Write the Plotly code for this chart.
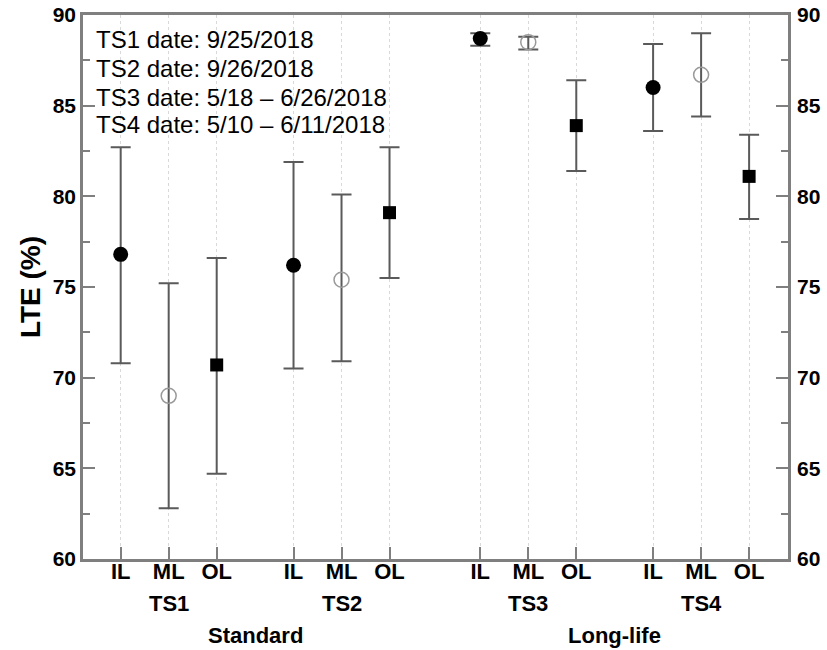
import plotly.graph_objects as go

# ---- data ----
tests = ["TS1", "TS2", "TS3", "TS4"]
locations = ["IL", "ML", "OL"]
road_types = ["Standard", "Long-life"]
date_notes = ["TS1 date: 9/25/2018", "TS2 date: 9/26/2018",
              "TS3 date: 5/18 \u2013 6/26/2018", "TS4 date: 5/10 \u2013 6/11/2018"]

lte_IL = [76.8, 76.2, 88.7, 86.0]
lte_IL_upper = [82.7, 81.9, 89.0, 88.4]
lte_IL_lower = [70.8, 70.5, 88.3, 83.6]

lte_ML = [69.0, 75.4, 88.5, 86.7]
lte_ML_upper = [75.2, 80.1, 88.8, 89.0]
lte_ML_lower = [62.8, 70.9, 88.1, 84.4]

lte_OL = [70.7, 79.1, 83.9, 81.1]
lte_OL_upper = [76.6, 82.7, 86.4, 83.4]
lte_OL_lower = [64.7, 75.5, 81.4, 78.75]

# ---- layout constants ----
group_start = [0.0, 3.6, 7.49, 11.09]
FONT = "Liberation Sans, Arial, sans-serif"
W, H = 827, 650
ML_, MR_, MT_, MB_ = 83, 39, 15, 91
PH = H - MT_ - MB_

series = {
    "IL": (lte_IL, lte_IL_upper, lte_IL_lower,
           dict(symbol="circle", size=15, color="black")),
    "ML": (lte_ML, lte_ML_upper, lte_ML_lower,
           dict(symbol="circle-open", size=15, color="#9a9a9a", line=dict(width=1.5, color="#9a9a9a"))),
    "OL": (lte_OL, lte_OL_upper, lte_OL_lower,
           dict(symbol="square", size=13, color="black")),
}

fig = go.Figure()
tickvals, ticktext = [], []
for j, loc in enumerate(locations):
    vals, up, lo, mk = series[loc]
    xs = [g + j for g in group_start]
    tickvals += xs
    ticktext += [loc] * len(xs)
    fig.add_trace(go.Scatter(
        x=xs, y=vals, mode="markers", marker=mk, showlegend=False,
        error_y=dict(type="data", symmetric=False,
                     array=[u - v for u, v in zip(up, vals)],
                     arrayminus=[v - l for v, l in zip(vals, lo)],
                     color="#5a5a5a", thickness=2, width=10),
    ))

# invisible trace for right axis
fig.add_trace(go.Scatter(x=[group_start[0]], y=[lte_IL[0]], yaxis="y2",
                         mode="markers", marker=dict(opacity=0), showlegend=False,
                         hoverinfo="skip"))

axis_col = "#7f7f7f"
fig.update_layout(
    width=W, height=H,
    margin=dict(l=ML_, r=MR_, t=MT_, b=MB_, autoexpand=False),
    plot_bgcolor="white", paper_bgcolor="white",
    font=dict(family=FONT, color="black"),
    xaxis=dict(range=[-0.785, 13.9], tickvals=tickvals, ticktext=ticktext,
               ticks="inside", ticklen=12, tickcolor=axis_col, tickwidth=1.5,
               showgrid=True, gridcolor="#d9d9d9", griddash="dot", gridwidth=1,
               showline=True, linecolor=axis_col, linewidth=2.5, mirror=True,
               tickfont=dict(size=22, family=FONT, weight="bold"),
               zeroline=False, ticklabelstandoff=-9, automargin=False),
    yaxis=dict(range=[60, 90], tickvals=[60, 65, 70, 75, 80, 85, 90],
               ticks="inside", ticklen=12, tickcolor=axis_col, tickwidth=1.5,
               minor=dict(ticks="inside", ticklen=7, dtick=2.5, tickcolor=axis_col, showgrid=False),
               showgrid=False, zeroline=False,
               showline=True, linecolor=axis_col, linewidth=2.5, mirror=True,
               tickfont=dict(size=21, family=FONT, weight="bold"),
               ticklabelstandoff=0, automargin=False,
               title=dict(text="LTE (%)", font=dict(size=28, family=FONT, weight="bold"), standoff=4)),
    yaxis2=dict(range=[60, 90], overlaying="y", side="right",
                tickvals=[60, 65, 70, 75, 80, 85, 90],
                ticks="inside", ticklen=12, tickcolor=axis_col, tickwidth=1.5,
                minor=dict(ticks="inside", ticklen=7, dtick=2.5, tickcolor=axis_col, showgrid=False),
                showgrid=False, zeroline=False, showline=False,
                tickfont=dict(size=21, family=FONT, weight="bold"),
                ticklabelstandoff=8, automargin=False),
)

# second row of x labels: tests
for t, g in zip(tests, group_start):
    fig.add_annotation(x=g + 1, y=0, xref="x", yref="paper", yanchor="middle",
                       yshift=-44, text=t, showarrow=False,
                       font=dict(size=22, family=FONT, weight="bold"))
# third row: road type
for k, rt in enumerate(road_types):
    xc = (group_start[2 * k] + group_start[2 * k + 1]) / 2 + 1
    fig.add_annotation(x=xc, y=0, xref="x", yref="paper", yanchor="middle",
                       yshift=-76, text=rt, showarrow=False,
                       font=dict(size=22, family=FONT, weight="bold"))

# date notes, one line each
note_centers_px = [40, 69, 97, 124]
for txt, py in zip(date_notes, note_centers_px):
    fig.add_annotation(x=(94 - ML_) / (W - ML_ - MR_), y=1 - (py - MT_) / PH,
                       xref="paper", yref="paper", xanchor="left", yanchor="middle",
                       align="left", text=txt, showarrow=False,
                       font=dict(size=24, family=FONT, color="black"))

fig.write_html("out.html", config={"displayModeBar": False},
               post_script="document.body.style.margin='0px';")
